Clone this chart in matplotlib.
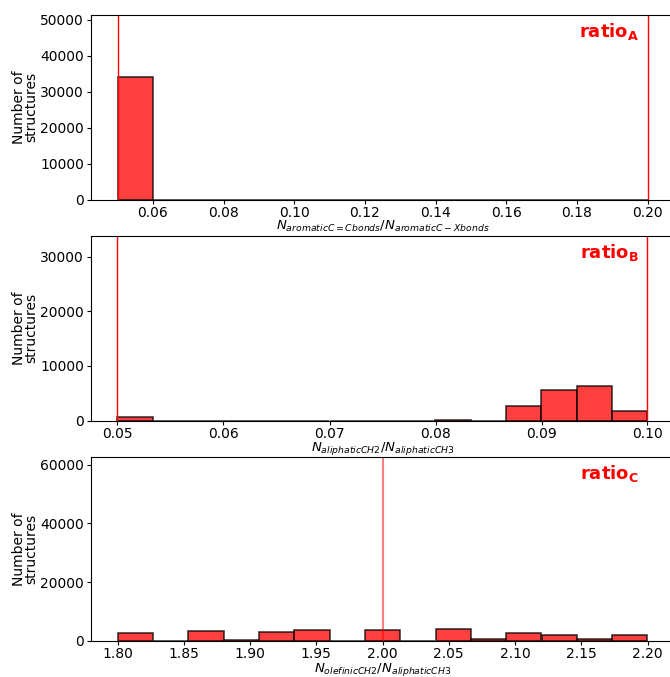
import numpy as np
import matplotlib
matplotlib.use("Agg")
import matplotlib.pyplot as plt

# ---- data ----
edges_a = np.linspace(0.05, 0.20, 16)
counts_a = [34000, 0, 0, 0, 0, 0, 0, 0, 0, 0, 0, 0, 0, 0, 0]
lines_a = [0.05, 0.20]

edges_b = np.linspace(0.05, 0.10, 16)
counts_b = [650, 0, 0, 0, 0, 0, 0, 0, 0, 100, 0, 2570, 5500, 6290, 1710]
lines_b = [0.05, 0.10]

edges_c = np.linspace(1.80, 2.20, 16)
counts_c = [2700, 150, 3500, 350, 3060, 3620, 0, 3850, 0, 3960, 600, 2830, 1930, 850, 1930]
lines_c = [2.00]

xlabels = [r'$N_{aromaticC=Cbonds}/N_{aromaticC-Xbonds}$',
           r'$N_{aliphaticCH2}/N_{aliphaticCH3}$',
           r'$N_{olefinicCH2}/N_{aliphaticCH3}$']
tags = [r'ratio$_\mathbf{A}$', r'ratio$_\mathbf{B}$', r'ratio$_\mathbf{C}$']
xticks = [np.arange(0.06, 0.201, 0.02), np.arange(0.05, 0.1001, 0.01), np.arange(1.80, 2.2001, 0.05)]
xfmt = ['{:.2f}', '{:.2f}', '{:.2f}']
yticks = [np.arange(0, 50001, 10000), np.arange(0, 30001, 10000), np.arange(0, 60001, 20000)]
ylims = [51300, 33900, 62600]

fig = plt.figure(figsize=(6.7, 6.77), dpi=100)
W, H = 670, 677
left, right = 91, 674
tops = [15, 235.5, 457]
bottoms = [199.5, 420.5, 641]

datasets = [(edges_a, counts_a, lines_a), (edges_b, counts_b, lines_b), (edges_c, counts_c, lines_c)]
for i, (edges, counts, vlines) in enumerate(datasets):
    ax = fig.add_axes([left / W, 1 - bottoms[i] / H, (right - left) / W, (bottoms[i] - tops[i]) / H])
    ax.hist(edges[:-1], bins=edges, weights=counts, color='red', alpha=0.75,
            edgecolor='black', linewidth=1.2)
    span = edges[-1] - edges[0]
    ax.set_xlim(edges[0] - 0.05 * span, edges[-1] + 0.05 * span)
    ax.set_ylim(0, ylims[i])
    for v in vlines:
        if i == 2:
            ax.axvline(v, color='red', lw=1.5, alpha=0.5)
        else:
            ax.axvline(v, color='red', lw=1)
    ax.set_xticks(xticks[i])
    ax.set_xticklabels([xfmt[i].format(t) for t in xticks[i]], fontsize=10)
    ax.set_yticks(yticks[i])
    ax.set_yticklabels([str(int(t)) for t in yticks[i]], fontsize=10)
    ax.tick_params(axis='x', pad=1.5, length=3)
    ax.tick_params(axis='y', pad=2, length=3)
    ax.set_xlabel(xlabels[i], fontsize=9.5, labelpad=-0.5)
    ax.set_ylabel('Number of\nstructures', fontsize=10, labelpad=1, linespacing=0.9)
    ax.text(0.94, 0.965, tags[i], transform=ax.transAxes, ha='right', va='top',
            color='red', fontsize=13, fontweight='bold')

fig.savefig('out.png', dpi=100)
